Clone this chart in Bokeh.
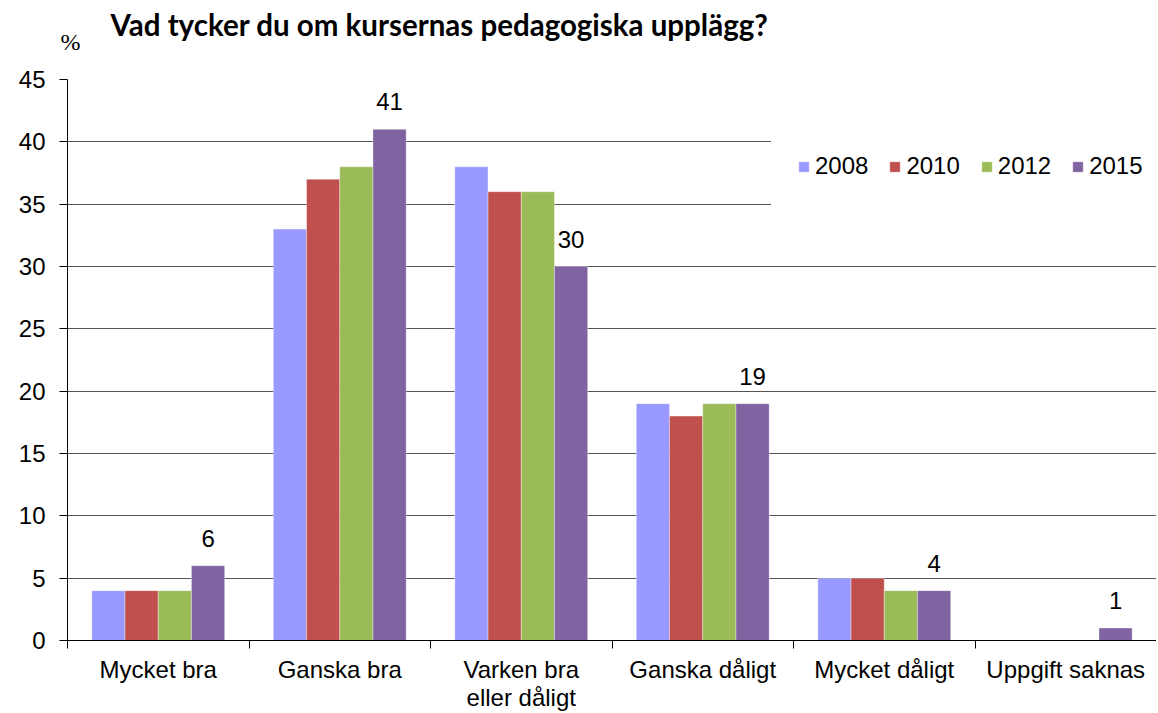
from bokeh.plotting import figure
from bokeh.models import (ColumnDataSource, FixedTicker, Legend, LegendItem,
                          LabelSet, Range1d, Title)
from bokeh.core.properties import value
from bokeh.embed import file_html
from bokeh.resources import INLINE

categories = ["Mycket bra", "Ganska bra", "Varken bra\neller dåligt",
              "Ganska dåligt", "Mycket dåligt", "Uppgift saknas"]
years = ["2008", "2010", "2012", "2015"]
v2008 = [4, 33, 38, 19, 5, 0]
v2010 = [4, 37, 36, 18, 5, 0]
v2012 = [4, 38, 36, 19, 4, 0]
v2015 = [6, 41, 30, 19, 4, 1]
colors = ["#9999FF", "#C0504D", "#9BBB59", "#8064A2"]
y_ticks = list(range(0, 50, 5))
title_text = "Vad tycker du om kursernas pedagogiska upplägg?"

series = [v2008, v2010, v2012, v2015]
n = len(categories)
centers = [i + 0.5 for i in range(n)]
bar_w = 0.183
offsets = [(-1.5 + k) * bar_w for k in range(len(years))]

p = figure(width=1156, height=713, output_backend="svg", toolbar_location=None,
           x_range=Range1d(0, n), y_range=Range1d(0, 45),
           min_border_left=67, min_border_right=0, min_border_top=79,
           min_border_bottom=70)
p.outline_line_color = None
p.background_fill_color = "white"

p.title.text = title_text
p.title.text_font = "Lato"
p.title.text_font_style = "bold"
p.title.text_font_size = "29.5px"
p.title.text_color = "black"
p.title.align = "left"
p.title.offset = 43
p.title.standoff = -80

items = []
for k, (yr, vals, col) in enumerate(zip(years, series, colors)):
    src = ColumnDataSource(dict(x=[c + offsets[k] for c in centers], top=vals,
                                lab=[str(v) for v in vals]))
    r = p.vbar(x="x", top="top", width=bar_w, bottom=0, source=src,
               fill_color=col, line_color="white", line_alpha=0.35, line_width=1)
    items.append(LegendItem(label=yr, renderers=[r]))
    if yr == "2015":
        ls = LabelSet(x="x", y="top", text="lab", source=src, text_align="center",
                      text_baseline="alphabetic", y_offset=19,
                      text_font=value("Liberation Sans"), text_font_size="24px",
                      text_color="black")
        p.add_layout(ls)

# axes
p.yaxis.ticker = FixedTicker(ticks=y_ticks)
p.yaxis.major_tick_out = 8
p.yaxis.major_tick_in = 0
p.yaxis.minor_tick_out = 0
p.yaxis.minor_tick_in = 0
p.yaxis.major_label_text_font = "Liberation Sans"
p.yaxis.major_label_text_font_size = "24px"
p.yaxis.major_label_text_color = "black"
p.yaxis.major_label_standoff = 14
p.yaxis.axis_line_color = "black"
p.yaxis.major_tick_line_color = "black"

p.xaxis.ticker = FixedTicker(ticks=centers, minor_ticks=list(range(n + 1)))
p.xaxis.major_label_overrides = {c: lab for c, lab in zip(centers, categories)}
p.xaxis.major_tick_out = 0
p.xaxis.major_tick_in = 0
p.xaxis.minor_tick_out = 8
p.xaxis.minor_tick_in = 0
p.xaxis.minor_tick_line_color = "black"
p.xaxis.axis_line_color = "black"
p.xaxis.major_label_text_font = "Liberation Sans"
p.xaxis.major_label_text_font_size = "24px"
p.xaxis.major_label_text_color = "black"
p.xaxis.major_label_text_line_height = 1.05
p.xaxis.major_label_standoff = 7

p.xgrid.grid_line_color = None
p.ygrid.ticker = FixedTicker(ticks=y_ticks)
p.ygrid.grid_line_color = "#555555"
p.ygrid.grid_line_width = 1

legend = Legend(items=items, orientation="horizontal", location=(704, 434),
                glyph_width=13, glyph_height=13, label_standoff=5, spacing=20,
                padding=26, margin=0, label_height=28,
                label_text_font="Liberation Sans", label_text_font_size="24px",
                label_text_color="black",
                background_fill_color="white", background_fill_alpha=1.0,
                border_line_alpha=0)
p.add_layout(legend, "center")

pct = Title(text="%", align="left", offset=-7, standoff=50,
            text_font="Liberation Serif", text_font_size="24px",
            text_font_style="normal", text_color="black")
p.add_layout(pct, "above")

open("out.html", "w").write(file_html(p, INLINE))
